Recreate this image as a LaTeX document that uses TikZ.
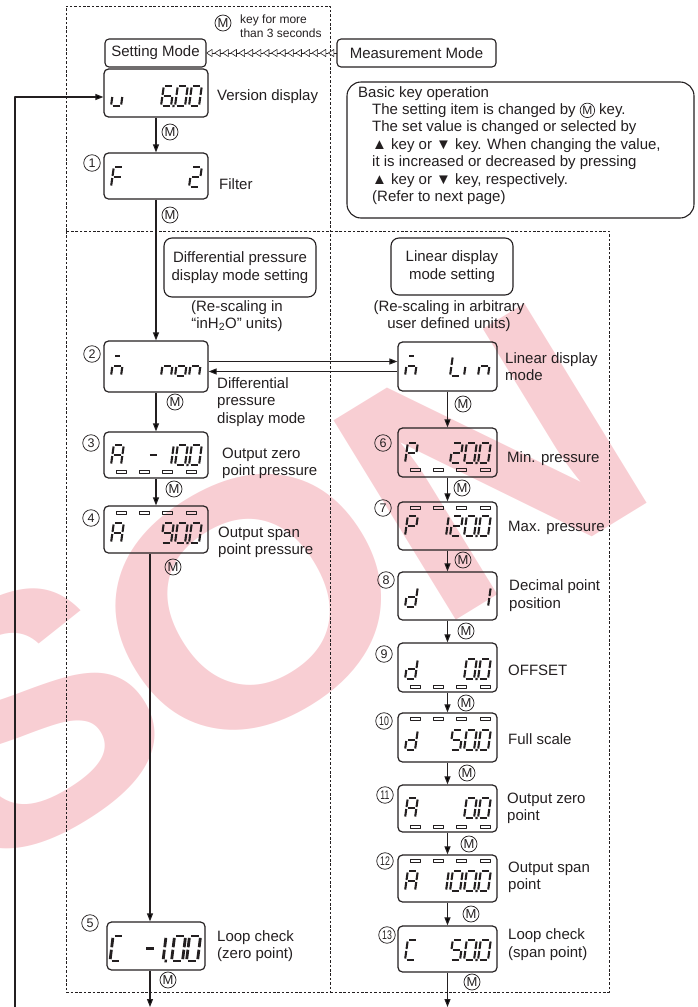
\documentclass[tikz,border=0pt]{standalone}
\usepackage{fontspec}
\setmainfont{Liberation Sans}
\usepackage{graphicx}
\usetikzlibrary{arrows.meta,calc}
\definecolor{ink}{HTML}{231F20}
\definecolor{wm}{HTML}{F8CED3}
\tikzset{lcdx/.style={}}
\makeatletter
\newcommand\lcdchar[3]{%
  \begin{scope}[shift={(#1,#2)},lcdx,xslant=0.14]
    \in@{a}{#3}\ifin@\draw[seg] (1.5,-20)--(8.5,-20);\fi
    \in@{b}{#3}\ifin@\draw[seg] (10,-18.5)--(10,-11);\fi
    \in@{c}{#3}\ifin@\draw[seg] (10,-9)--(10,-1.5);\fi
    \in@{d}{#3}\ifin@\draw[seg] (1.5,0)--(8.5,0);\fi
    \in@{e}{#3}\ifin@\draw[seg] (0,-1.5)--(0,-9);\fi
    \in@{f}{#3}\ifin@\draw[seg] (0,-11)--(0,-18.5);\fi
    \in@{g}{#3}\ifin@\draw[seg] (1.5,-10)--(8.5,-10);\fi
    \in@{m}{#3}\ifin@\draw[seg] (1.5,-20)--(6,-20);\fi
    \in@{p}{#3}\ifin@\fill[ink] (11.4,1.1) rectangle (13.6,-1.1);\fi
  \end{scope}}
\makeatother
\newcommand\lcdrow[8]{%
  \lcdchar{#1+7}{#3}{#4}%
  \lcdchar{#2-61}{#3}{#5}%
  \lcdchar{#2-47}{#3}{#6}%
  \lcdchar{#2-33}{#3}{#7}%
  \lcdchar{#2-19}{#3}{#8}}
\newcommand\lcdbars[2]{%
  \foreach \k in {0,...,3} {\draw[lcdbar] ({#1+12+23.3*\k},{#2-1.7}) rectangle ++(10,3.4);}}
\newcommand\cmk{\tikz[baseline=(cmX.base)]\node[draw=ink,circle,inner sep=0pt,minimum size=14.5pt,line width=0.7pt,font=\fontsize{12}{12}\selectfont](cmX){M};}
\tikzset{
  lbl/.style={font=\fontsize{15}{17.4}\selectfont, text=ink, inner sep=0pt, align=left},
  sml/.style={font=\fontsize{12}{13.8}\selectfont, text=ink, inner sep=0pt, align=left},
  modebox/.style={draw=ink, line width=1.1pt, rounded corners=4pt, inner sep=0pt, font=\fontsize{15}{17.4}\selectfont, text=ink},
  lcdbox/.style={draw=ink, line width=1.2pt, rounded corners=4.5pt, inner sep=0pt},
  mk/.style={circle, draw=ink, line width=0.75pt, inner sep=0pt, minimum size=16pt, font=\fontsize{13}{13}\selectfont, text=ink},
  numc/.style={circle, draw=ink, line width=0.75pt, inner sep=0pt, minimum size=16.5pt, font=\fontsize{12.5}{12.5}\selectfont, text=ink},
  arr/.style={draw=ink, line width=1.1pt, -{Triangle[length=8pt,width=6pt]}},
  dsh/.style={draw=ink, line width=1pt, dash pattern=on 2.6pt off 1.8pt},
  seg/.style={draw=ink, line width=2.1pt, line cap=butt},
  lcdbar/.style={draw=ink, line width=0.7pt},
  hol/.style={draw=ink, line width=0.6pt, fill=white},
  wmark/.style={rotate=31.5, text=wm, inner sep=0pt, font=\fontsize{340}{340}\selectfont\bfseries},
}
\begin{document}
\begin{tikzpicture}[x=1pt,y=-1pt,line join=round]
\useasboundingbox (0,0) rectangle (697,1007);
% watermark
\begin{scope}
  \clip (0,0) rectangle (697,1007);
  \node[wmark] (wS) at (24,718) {\scalebox{1.12}[1]{S}};
  \node[wmark] (wO) at (250,602) {\scalebox{1.12}[1]{O}};
  \node[wmark] (wN) at (491,462) {\scalebox{1.12}[1]{N}};
\end{scope}
% dashed frames
\draw[dsh] (66,231) -- (66,6) -- (330,6) -- (330,992);
\draw[dsh] (66,231) rectangle (609,992);
% mode boxes
\node[modebox, minimum width=101pt, minimum height=28pt] (sm) at (155.5,53) {Setting Mode};
\node[modebox, minimum width=159pt, minimum height=28pt] (mm) at (416.5,53) {Measurement Mode};
\foreach \i in {0,...,15} {
  \coordinate (t) at ($(sm.east)!\i/16!(mm.west)$);
  \draw[hol] (t) -- ++(5.6,-3.6) -- ++(0,7.2) -- cycle;
  \draw[hol] ($(t)+(5.6,0)$) -- ++(2.6,0);
}
\node[mk] (mtop) at (223,23) {M};
\node[sml, anchor=west] (keytxt) at (240,26) {key for more\\than 3 seconds};
% basic key box
\node[draw=ink, line width=1.1pt, rounded corners=14pt, minimum width=347pt, minimum height=136pt] (bk) at (520.5,150) {};
\node[lbl, anchor=north west] (bktext) at (358,86) {Basic key operation\\
\hspace*{14pt}The setting item is changed by \cmk\ key.\\
\hspace*{14pt}The set value is changed or selected by\\
\hspace*{14pt}▲ key or ▼ key. When changing the value,\\
\hspace*{14pt}it is increased or decreased by pressing\\
\hspace*{14pt}▲ key or ▼ key, respectively.\\
\hspace*{14pt}(Refer to next page)};
% section boxes
\node[modebox, rounded corners=8pt, minimum width=152pt, minimum height=59pt, align=center] (dbox) at (240,267.5) {Differential pressure\\display mode setting};
\node[modebox, rounded corners=8pt, minimum width=122pt, minimum height=57pt, align=center] (lbox) at (452,266.5) {Linear display\\mode setting};
\node[lbl, align=center] (dres) at (237,316) {(Re-scaling in\\“inH\textsubscript{2}O” units)};
\node[lbl, align=center] (lres) at (449,316) {(Re-scaling in arbitrary\\user defined units)};
% LCD boxes left
\node[lcdbox, minimum width=104pt, minimum height=48pt] (ver) at (156,93) {};
\node[lcdbox, minimum width=104pt, minimum height=46pt] (filt) at (156,176) {};
\node[lcdbox, minimum width=104pt, minimum height=51pt] (b2) at (156,366.5) {};
\node[lcdbox, minimum width=104pt, minimum height=46pt] (b3) at (156,455) {};
\node[lcdbox, minimum width=104pt, minimum height=47pt] (b4) at (156,529.5) {};
\node[lcdbox, minimum width=98pt, minimum height=48pt] (b5) at (156,946) {};
% LCD boxes right
\node[lcdbox, minimum width=99pt, minimum height=49pt] (lin) at (447.5,366.5) {};
\node[lcdbox, minimum width=99pt, minimum height=49pt] (b6) at (447.5,452.5) {};
\node[lcdbox, minimum width=99pt, minimum height=48pt] (b7) at (447.5,526) {};
\node[lcdbox, minimum width=99pt, minimum height=48pt] (b8) at (447.5,596) {};
\node[lcdbox, minimum width=99pt, minimum height=49pt] (b9) at (447.5,667.5) {};
\node[lcdbox, minimum width=99pt, minimum height=49pt] (b10) at (447.5,737.5) {};
\node[lcdbox, minimum width=99pt, minimum height=47pt] (b11) at (447.5,808.5) {};
\node[lcdbox, minimum width=99pt, minimum height=47pt] (b12) at (447.5,878.5) {};
\node[lcdbox, minimum width=99pt, minimum height=46pt] (b13) at (447.5,949) {};
% LCD contents
\lcdrow{104}{208}{106}{cde}{}{afgedcp}{abcdef}{abcdef}
\lcdrow{104}{208}{187}{aefg}{}{}{}{abged}
\lcdrow{104}{208}{376}{mceg}{}{ceg}{cdeg}{ceg}
\lcdrow{104}{208}{465}{abcefg}{g}{bc}{abcdefp}{abcdef}
\lcdbars{104}{472}
\lcdrow{104}{208}{543}{abcefg}{}{abcdfg}{abcdefp}{abcdef}
\lcdbars{104}{513}
\begingroup
\tikzset{lcdx/.style={xscale=1.1,yscale=1.25}, seg/.append style={line width=2.8pt}}
\lcdchar{110}{961}{adef}
\lcdchar{143}{961}{g}
\lcdchar{152}{961}{bcp}
\lcdchar{171.5}{961}{abcdef}
\lcdchar{186.5}{961}{abcdef}
\endgroup
\lcdrow{398}{497}{376}{mceg}{}{def}{e}{ceg}
\lcdrow{398}{497}{463}{abefg}{}{abged}{abcdefp}{abcdef}
\lcdbars{398}{470}
\lcdrow{398}{497}{536}{abefg}{bc}{abged}{abcdefp}{abcdef}
\lcdbars{398}{508}
\lcdrow{398}{497}{607}{bcdeg}{}{}{}{bc}
\lcdrow{398}{497}{679}{bcdeg}{}{}{abcdefp}{abcdef}
\lcdbars{398}{687}
\lcdrow{398}{497}{750}{bcdeg}{}{afgcd}{abcdefp}{abcdef}
\lcdbars{398}{719}
\lcdrow{398}{497}{818}{abcefg}{}{}{abcdefp}{abcdef}
\lcdbars{398}{827}
\lcdrow{398}{497}{891}{abcefg}{bc}{abcdef}{abcdefp}{abcdef}
\lcdbars{398}{861}
\lcdrow{398}{497}{960}{adef}{}{afgcd}{abcdefp}{abcdef}
% circled numbers
\node[numc] (n1) at (92,163) {1};
\node[numc] (n2) at (92,354) {2};
\node[numc] (n3) at (91,443) {3};
\node[numc] (n4) at (91,518) {4};
\node[numc] (n5) at (90,923) {5};
\node[numc] (n6) at (383,443) {6};
\node[numc] (n7) at (383,508) {7};
\node[numc] (n8) at (386,580) {8};
\node[numc] (n9) at (384,654) {9};
\node[numc] (n10) at (384,721) {\scalebox{0.7}[1]{10}};
\node[numc] (n11) at (385,795) {\scalebox{0.7}[1]{11}};
\node[numc] (n12) at (385,861) {\scalebox{0.7}[1]{12}};
\node[numc] (n13) at (387,935) {\scalebox{0.7}[1]{13}};
% labels
\node[lbl, anchor=west] (l0) at (217,97) {Version display};
\node[lbl, anchor=west] (l1) at (219,184) {Filter};
\node[lbl, anchor=west] (l2) at (217,402) {Differential\\pressure\\display mode};
\node[lbl, anchor=west] (l3) at (222,463.5) {Output zero\\point pressure};
\node[lbl, anchor=west] (l4) at (218,542.5) {Output span\\point pressure};
\node[lbl, anchor=west] (l5) at (217,946) {Loop check\\(zero point)};
\node[lbl, anchor=west] (ll) at (505,366.5) {Linear display\\mode};
\node[lbl, anchor=west] (l6) at (507,459) {Min. pressure};
\node[lbl, anchor=west] (l7) at (508,528) {Max. pressure};
\node[lbl, anchor=west] (l8) at (509,595.5) {Decimal point\\position};
\node[lbl, anchor=west] (l9) at (508,670) {OFFSET};
\node[lbl, anchor=west] (l10) at (508,739) {Full scale};
\node[lbl, anchor=west] (l11) at (507,808.5) {Output zero\\point};
\node[lbl, anchor=west] (l12) at (508,877.5) {Output span\\point};
\node[lbl, anchor=west] (l13) at (508,944.5) {Loop check\\(span point)};
% M keys
\node[mk] (m0) at (170,132) {M};
\node[mk] (m1) at (170,215) {M};
\node[mk] (m2) at (175,402) {M};
\node[mk] (m3) at (174,489) {M};
\node[mk] (m4) at (173,567) {M};
\node[mk] (m5) at (168,980) {M};
\node[mk] (ml) at (463,404) {M};
\node[mk] (m6) at (462,488) {M};
\node[mk] (m7) at (463,560) {M};
\node[mk] (m8) at (466,631) {M};
\node[mk] (m9) at (466,703) {M};
\node[mk] (m10) at (467,773) {M};
\node[mk] (m11) at (469,844) {M};
\node[mk] (m12) at (471,914) {M};
\node[mk] (m13) at (472,982) {M};
% connectors
\draw[arr] (ver.south) -- (filt.north);
\draw[arr] (filt.south) -- (b2.north);
\draw[arr] (b2.south) -- (b3.north);
\draw[arr] (b3.south) -- (b4.north);
\draw[arr] ([xshift=-6pt]b4.south) -- ([xshift=-6pt]b5.north);
\coordinate (o5) at (150,1007);
\draw[arr] ([xshift=-6pt]b5.south) -- (o5);
\draw[arr] ([yshift=5pt]b2.east) -- ([yshift=5pt]lin.west);
\draw[arr] ([yshift=-5pt]lin.west) -- ([yshift=-5pt]b2.east);
\draw[arr] (lin.south) -- (b6.north);
\draw[arr] (b6.south) -- (b7.north);
\draw[arr] (b7.south) -- (b8.north);
\draw[arr] (b8.south) -- (b9.north);
\draw[arr] (b9.south) -- (b10.north);
\draw[arr] (b10.south) -- (b11.north);
\draw[arr] (b11.south) -- (b12.north);
\draw[arr] (b12.south) -- (b13.north);
\coordinate (o13) at (447.5,1007);
\draw[arr] (b13.south) -- (o13);
\coordinate (ret) at (15,1007);
\draw[arr] (ret) |- ([yshift=-4pt]ver.west);
\end{tikzpicture}
\end{document}
